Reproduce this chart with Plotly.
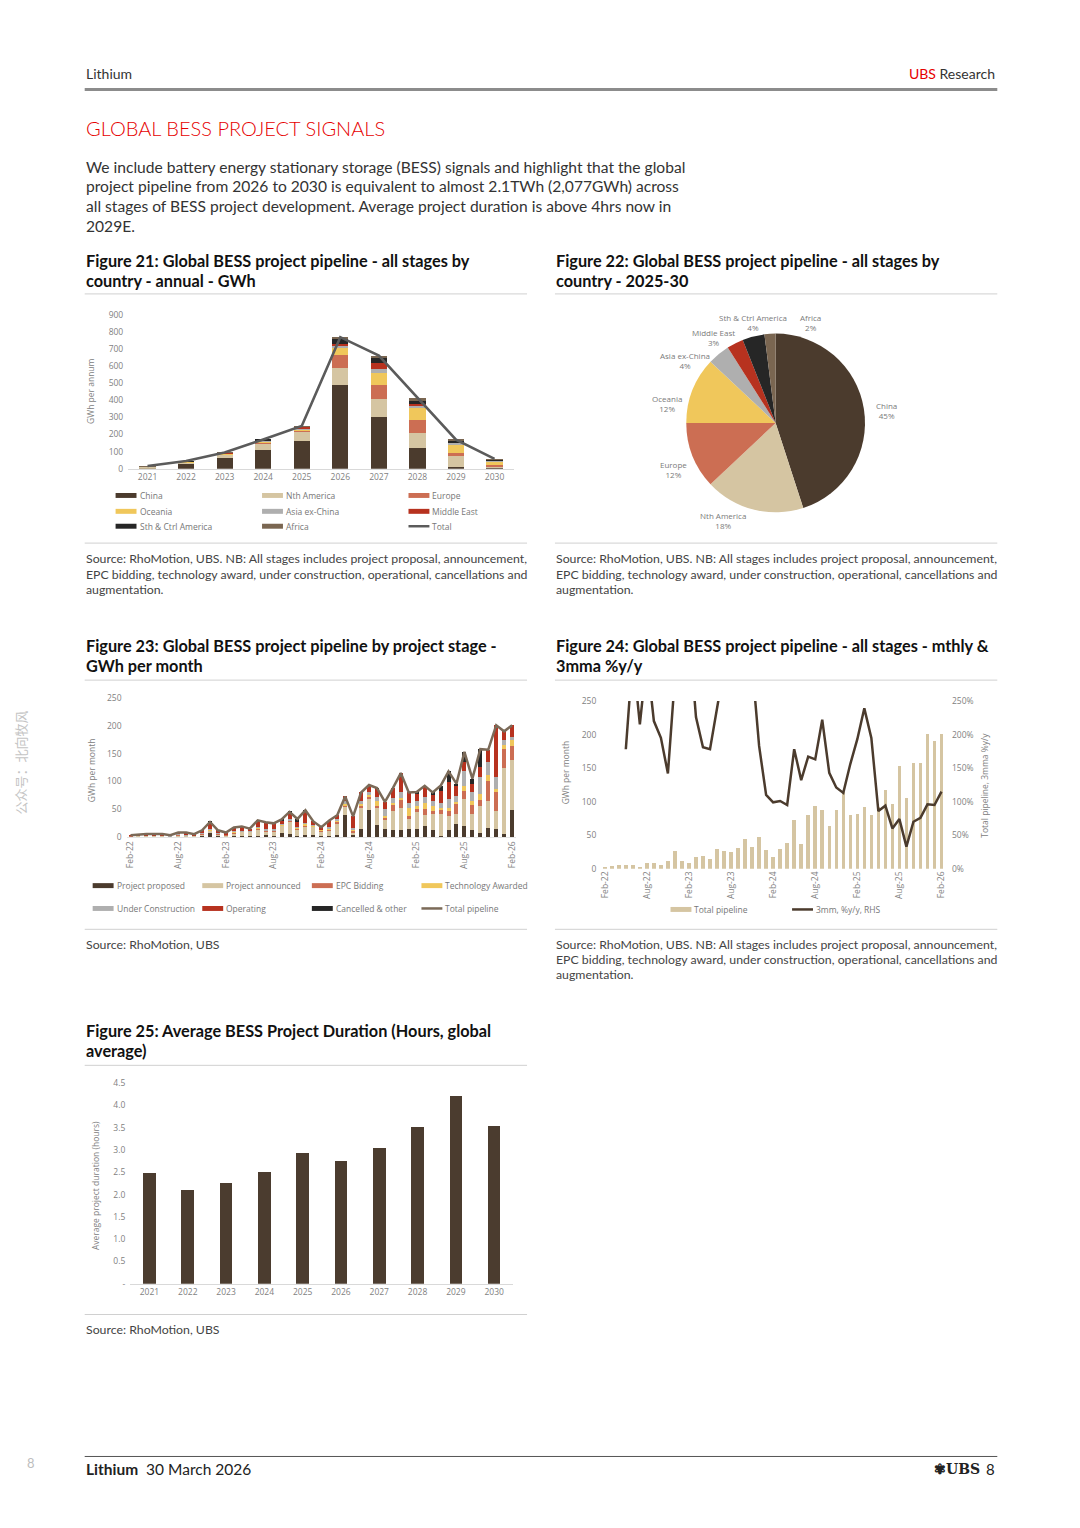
import numpy as np
import pandas as pd
import plotly.graph_objects as go

W, H = 1080, 1528
def X(px): return px / W
def Y(py): return 1 - py / H

# ---------------- DATA ----------------
# Figure 21 (GWh per annum, stacked by region)
years = ["2021", "2022", "2023", "2024", "2025", "2026", "2027", "2028", "2029", "2030"]
china = [4, 25, 62, 110, 162, 490, 302, 120, 8, 2]
nth_america = [8, 12, 20, 35, 50, 100, 107, 87, 66, 12]
europe = [1, 3, 5, 12, 12, 73, 80, 78, 18, 8]
oceania = [1, 2, 3, 5, 8, 40, 72, 68, 48, 22]
asia_ex_china = [0.3, 1, 2, 4, 5, 12, 22, 18, 12, 5]
middle_east = [0.3, 1, 1, 2, 8, 12, 33, 8, 5, 2]
sth_ctrl_america = [0.3, 1, 1, 2, 3, 30, 30, 18, 10, 3]
africa = [0.3, 0, 1, 0, 2, 12, 15, 15, 2, 3]

# Figure 22 (share of 2025-30 pipeline, %)
pie_labels = ["China", "Nth America", "Europe", "Oceania", "Asia ex-China",
              "Middle East", "Sth & Ctrl America", "Africa"]
pie_pct = [45, 18, 12, 12, 4, 3, 4, 2]

# Figure 23 / 24 (monthly, Feb-22 .. Feb-26)
months = list(pd.date_range("2022-02-01", "2026-02-01", freq="MS").strftime("%b-%y"))
month_ticks = ["Feb-22", "Aug-22", "Feb-23", "Aug-23", "Feb-24", "Aug-24", "Feb-25", "Aug-25", "Feb-26"]
proj_proposed = [0.5, 0.5, 0.5, 0.5, 0.3, 0.3, 0.5, 0.5, 0.5, 1, 8, 1, 0.5, 1, 2, 1, 2, 4, 2, 8,
                 5, 2, 4, 3, 1, 2, 3, 39, 3, 15, 48, 22, 15, 12, 12, 15, 15, 20, 12, 2,
                 12, 24, 20, 12, 7, 17, 14, 6, 48]
proj_announced = [1, 1.5, 2, 1.5, 2, 1, 3, 2, 1.5, 4, 3, 4, 3, 6, 7, 8, 12, 6, 8, 12,
                  22, 12, 14, 15, 9, 10, 22, 15, 5, 38, 22, 30, 15, 35, 40, 18, 30, 20, 30, 40,
                  25, 18, 48, 30, 48, 48, 32, 118, 90]
epc_bidding = [0.3, 0.5, 0.5, 0.5, 0.5, 0.2, 0.5, 0.5, 0.5, 1, 1, 1, 0.5, 1, 1, 1, 2, 1, 1.5, 1,
               2, 1.5, 2, 1, 2, 2, 3, 3, 3, 4, 3, 4, 5, 10, 15, 4, 5, 10, 5, 8,
               10, 18, 15, 15, 12, 35, 35, 34, 26]
tech_awarded = [0.2, 0.3, 0.3, 0.5, 0.2, 0.2, 1, 0.5, 0.3, 0.5, 1, 0.5, 0.5, 1, 0.5, 0.5, 1, 1, 1, 1,
                1, 1, 5, 2, 1, 2, 2, 3, 1, 3, 2, 8, 3, 4, 3, 15, 5, 12, 8, 3,
                5, 3, 9, 8, 10, 12, 6, 8, 10]
under_construction = [0.2, 0.2, 0.2, 0.5, 0.5, 0.3, 0.5, 0.5, 0.2, 0.5, 1, 0.5, 0.5, 1, 0.5, 0.5, 1, 1.5, 1, 1.5,
                      2, 2, 1, 1, 1, 1.5, 2, 4, 5, 5, 5, 8, 12, 10, 10, 10, 10, 10, 10, 8,
                      16, 10, 27, 15, 30, 22, 20, 8, 6]
operating = [0.8, 1.5, 2, 2, 2, 1, 2.5, 4, 2, 5, 12, 5, 3, 7, 8, 4, 12, 12, 11, 7,
             12, 8, 21, 6, 3.5, 12, 7, 9, 20, 15, 12, 15, 13, 17, 35, 18, 13, 20, 12, 21,
             30, 20, 16, 15, 18, 23, 94, 16, 21]
cancelled_other = [0, 0, 0, 0, 0, 0, 0, 0, 0, 0, 1, 0, 0, 0, 0, 0, 0, 1, 0, 1,
                   1, 6, 1, 0, 0, 0, 0, 0, 0, 0, 1.5, 1, 0, 0, 0, 0, 3, 0, 3, 10,
                   20, 3, 18, 10, 33, 0, 0, 0, 0]
total_pipeline = [3, 4.5, 5.5, 5.5, 5.5, 3, 8, 8, 5, 12, 27, 12, 8, 17, 19, 15, 30, 26.5, 24.5, 31.5,
                  45, 32.5, 48, 28, 17.5, 29.5, 39, 73, 37, 80, 93.5, 88, 63, 88, 115, 80, 81, 92, 80, 92,
                  118, 96, 153, 105, 158, 157, 201, 190, 201]
# 3mma %y/y (values above 250% run off the top of the chart)
yoy_3mma = [None, None, None, 178, 320, 215, 315, 220, 195, 142, 286, 330, 357, 226, 181, 178, 238, 300, 320, 310,
            330, 305, 183, 110, 99, 101, 95, 178, 132, 167, 163, 222, 143, 121, 113, 156, 193, 239, 195, 86,
            94, 60, 74, 33, 70, 76, 96, 95, 115]

# Figure 25 (average duration, hours)
duration_hours = [2.49, 2.11, 2.27, 2.51, 2.94, 2.76, 3.05, 3.51, 4.22, 3.55]
dur_ticks = [0, 0.5, 1, 1.5, 2, 2.5, 3, 3.5, 4, 4.5]
dur_ticktext = ["-", "0.5", "1.0", "1.5", "2.0", "2.5", "3.0", "3.5", "4.0", "4.5"]

# ---------------- STYLE ----------------
C_BROWN = "#4b3b2d"
C_TAN = "#d5c5a2"
C_SALMON = "#cc6e53"
C_YELLOW = "#f0c75b"
C_GREY = "#afafaf"
C_RED = "#b7321f"
C_BLACK = "#262626"
C_AFRICA = "#7a6651"
C_TOTAL21 = "#5b5b5b"
C_TOTAL23 = "#7b6a58"

TXT = "Lato"
CH = "Open Sans"
tickfont = dict(family=CH, size=8.5, color="#7f7f7f")

# pie label anchor points (px) in slice order
pie_label_xy = [(887, 407), (723, 518), (673, 467), (666, 400), (685, 357), (713, 334), (753, 319), (811, 319)]

fig = go.Figure()

# ---- Figure 21 ----
reg_series = [china, nth_america, europe, oceania, asia_ex_china, middle_east, sth_ctrl_america, africa]
reg_colors = [C_BROWN, C_TAN, C_SALMON, C_YELLOW, C_GREY, C_RED, C_BLACK, C_AFRICA]
for name, vals, col in zip(pie_labels, reg_series, reg_colors):
    fig.add_trace(go.Bar(x=years, y=vals, name=name, marker=dict(color=col, line=dict(width=0)),
                         width=0.42, xaxis="x", yaxis="y", showlegend=False))
totals21 = np.sum(np.array(reg_series, dtype=float), axis=0)
fig.add_trace(go.Scatter(x=years, y=totals21, mode="lines", line=dict(color=C_TOTAL21, width=2.6),
                         xaxis="x", yaxis="y", showlegend=False, name="Total"))

# ---- Figure 22 ----
fig.add_trace(go.Pie(labels=pie_labels, values=pie_pct, sort=False, direction="clockwise", rotation=0,
                     marker=dict(colors=reg_colors, line=dict(width=0)),
                     textinfo="none",
                     domain=dict(x=[X(685.5), X(865.5)], y=[Y(510), Y(330)]),
                     showlegend=False, hoverinfo="label+percent"))

# ---- Figure 23 ----
stage_series = [proj_proposed, proj_announced, epc_bidding, tech_awarded, under_construction, operating, cancelled_other]
stage_names = ["Project proposed", "Project announced", "EPC Bidding", "Technology Awarded",
               "Under Construction", "Operating", "Cancelled & other"]
stage_colors = [C_BROWN, C_TAN, C_SALMON, C_YELLOW, C_GREY, C_RED, C_BLACK]
for name, vals, col in zip(stage_names, stage_series, stage_colors):
    fig.add_trace(go.Bar(x=months, y=vals, name=name, marker=dict(color=col, line=dict(width=0)),
                         width=0.5, xaxis="x2", yaxis="y2", showlegend=False))
fig.add_trace(go.Scatter(x=months, y=total_pipeline, mode="lines", line=dict(color=C_TOTAL23, width=2.5),
                         xaxis="x2", yaxis="y2", showlegend=False, name="Total pipeline"))

# ---- Figure 24 ----
fig.add_trace(go.Bar(x=months, y=total_pipeline, marker=dict(color=C_TAN, line=dict(width=0)), width=0.5,
                     xaxis="x3", yaxis="y3", showlegend=False, name="Total pipeline"))
fig.add_trace(go.Scatter(x=months, y=yoy_3mma, mode="lines", line=dict(color=C_BROWN, width=2.5),
                         connectgaps=False, xaxis="x3", yaxis="y4", showlegend=False, name="3mm, %y/y, RHS"))

# ---- Figure 25 ----
fig.add_trace(go.Bar(x=years, y=duration_hours, marker=dict(color="#4b3c2f", line=dict(width=0)), width=0.33,
                     xaxis="x4", yaxis="y5", showlegend=False, name="Average duration"))

ax_common = dict(showgrid=False, zeroline=False, ticks="", tickfont=tickfont, fixedrange=True)

fig.update_layout(
    width=W, height=H, margin=dict(l=0, r=0, t=0, b=0, pad=0), autosize=False,
    paper_bgcolor="white", plot_bgcolor="white", barmode="stack", showlegend=False,
    xaxis=dict(domain=[X(125.7), X(512.7)], anchor="y", type="category", range=[-0.5, 9.5],
               showline=True, linecolor="#d9d9d9", linewidth=1, **ax_common),
    yaxis=dict(domain=[Y(466), Y(311)], anchor="x", range=[0, 900], dtick=100, showline=False,
               ticklabelstandoff=4, **ax_common),
    xaxis2=dict(domain=[X(124), X(515)], anchor="y2", type="category", range=[-0.5, 48.5],
                tickmode="array", tickvals=month_ticks, ticktext=month_ticks, tickangle=-90,
                showline=True, linecolor="#e3e3e3", linewidth=1, **ax_common),
    yaxis2=dict(domain=[Y(837), Y(697)], anchor="x2", range=[0, 250], dtick=50, showline=False,
                ticklabelstandoff=4, **ax_common),
    xaxis3=dict(domain=[X(600.5), X(945.5)], anchor="y3", type="category", range=[-0.5, 48.5],
                tickmode="array", tickvals=month_ticks, ticktext=month_ticks, tickangle=-90,
                showline=False, **ax_common),
    yaxis3=dict(domain=[Y(869), Y(700)], anchor="x3", range=[0, 250], dtick=50, showline=False,
                ticklabelstandoff=4, **ax_common),
    yaxis4=dict(domain=[Y(869), Y(700)], anchor="x3", overlaying="y3", side="right", range=[0, 250],
                dtick=50, ticksuffix="%", showline=False, ticklabelstandoff=6, **ax_common),
    xaxis4=dict(domain=[X(127.8), X(512.2)], anchor="y5", type="category", range=[-0.5, 9.5],
                showline=True, linecolor="#d9d9d9", linewidth=1, **ax_common),
    yaxis5=dict(domain=[Y(1287), Y(1085)], anchor="x4", range=[0, 4.5], tickmode="array",
                tickvals=dur_ticks, ticktext=dur_ticktext, showline=False, ticklabelstandoff=4, **ax_common),
)

ann = []
shapes = []

def text(x, y, s, size=14, color="#333333", family=TXT, xanchor="left", angle=0, weight="normal"):
    ann.append(dict(x=X(x), y=Y(y), xref="paper", yref="paper", text=s, showarrow=False,
                    xanchor=xanchor, yanchor="middle", textangle=angle,
                    font=dict(family=family, size=size, color=color, weight=weight)))

def hline(y, x0, x1, color="#d0d0d0", width=1):
    shapes.append(dict(type="line", xref="paper", yref="paper", x0=X(x0), x1=X(x1), y0=Y(y), y1=Y(y),
                       line=dict(color=color, width=width)))

def swatch(x, y, color, kind="bar"):
    if kind == "bar":
        shapes.append(dict(type="rect", xref="paper", yref="paper", x0=X(x), x1=X(x + 21),
                           y0=Y(y + 2.5), y1=Y(y - 2.5), fillcolor=color, line=dict(width=0)))
    else:
        shapes.append(dict(type="line", xref="paper", yref="paper", x0=X(x), x1=X(x + 21),
                           y0=Y(y), y1=Y(y), line=dict(color=color, width=2.5)))

# Header
text(81, 68, "Lithium", 14, "#333333")
text(998, 68, "<span style='color:#e60000'>UBS</span> Research", 14, "#333333", xanchor="right")
hline(84, 82, 998, "#8c8c8c", 3)
text(81, 123, "GLOBAL BESS PROJECT SIGNALS", 20, "#e60000", weight=300)
para = ["We include battery energy stationary storage (BESS) signals and highlight that the global",
        "project pipeline from 2026 to 2030 is equivalent to almost 2.1TWh (2,077GWh) across",
        "all stages of BESS project development. Average project duration is above 4hrs now in",
        "2029E."]
for i, line in enumerate(para):
    text(81, 162 + i * 19.7, line, 15.6, "#333333")

# Figure titles
def ftitle(x, y, lines):
    for i, l in enumerate(lines):
        text(x, y + i * 20, "<b>" + l + "</b>", 16.3, "#111111")

ftitle(81, 256, ["Figure 21: Global BESS project pipeline - all stages by", "country - annual - GWh"])
ftitle(553, 256, ["Figure 22: Global BESS project pipeline - all stages by", "country - 2025-30"])
hline(290, 82, 526); hline(290, 554, 998)
ftitle(81, 644, ["Figure 23: Global BESS project pipeline by project stage -", "GWh per month"])
ftitle(553, 644, ["Figure 24: Global BESS project pipeline - all stages - mthly &", "3mma %y/y"])
hline(679, 82, 526); hline(679, 554, 998)
ftitle(81, 1032, ["Figure 25: Average BESS Project Duration (Hours, global", "average)"])
hline(1067, 82, 526)

# bottom separators
hline(541, 82, 526); hline(541, 554, 998)
hline(930, 82, 526); hline(930, 554, 998)
hline(1318, 82, 526)

src_long = ["Source: RhoMotion, UBS. NB: All stages includes project proposal, announcement,",
            "EPC bidding, technology award, under construction, operational, cancellations and",
            "augmentation."]
for i, l in enumerate(src_long):
    text(81, 557 + i * 15.5, l, 12.3, "#444444")
    text(553, 557 + i * 15.5, l, 12.3, "#444444")
    text(553, 945 + i * 15.5, l, 12.3, "#444444")
text(81, 945, "Source: RhoMotion, UBS", 12.3, "#444444")
text(81, 1333, "Source: RhoMotion, UBS", 12.3, "#444444")

# Pie labels
for (lx, ly), lab, pct in zip(pie_label_xy, pie_labels, pie_pct):
    text(lx, ly, f"{lab}<br>{pct}%", 8, "#7a7a7a", CH, "center")

# Axis titles
text(88, 388, "GWh per annum", 8.5, "#808080", CH, "center", -90)
text(89, 770, "GWh per month", 8.5, "#808080", CH, "center", -90)
text(565, 772, "GWh per month", 8.5, "#808080", CH, "center", -90)
text(985, 785, "Total pipeline, 3mma %y/y", 8.5, "#808080", CH, "center", -90)
text(93, 1188, "Average project duration (hours)", 8.5, "#808080", CH, "center", -90)

# Legend fig 21
leg21 = [("China", C_BROWN), ("Nth America", C_TAN), ("Europe", C_SALMON),
         ("Oceania", C_YELLOW), ("Asia ex-China", C_GREY), ("Middle East", C_RED),
         ("Sth & Ctrl America", C_BLACK), ("Africa", C_AFRICA), ("Total", C_TOTAL21)]
for i, (n, c) in enumerate(leg21):
    cx = [113, 260, 407][i % 3]
    cy = [493, 509, 524][i // 3]
    swatch(cx, cy, c, "line" if n == "Total" else "bar")
    text(cx + 22, cy, n, 8.5, "#777777", CH)

# Legend fig 23
leg23 = list(zip(stage_names, stage_colors)) + [("Total pipeline", C_TOTAL23)]
for i, (n, c) in enumerate(leg23):
    cx = [90, 200, 310, 420][i % 4]
    cy = [886, 909][i // 4]
    swatch(cx, cy, c, "line" if n == "Total pipeline" else "bar")
    text(cx + 22, cy, n, 8.5, "#777777", CH)

# Legend fig 24
swatch(670, 910, C_TAN, "bar"); text(692, 910, "Total pipeline", 8.5, "#777777", CH)
swatch(792, 910, C_BROWN, "line"); text(814, 910, "3mm, %y/y, RHS", 8.5, "#777777", CH)

# Footer
hline(1461, 82, 998, "#555555", 1)
text(81, 1474, "<b>Lithium</b>  30 March 2026", 15.5, "#222222")
text(998, 1474, "8", 15, "#222222", xanchor="right")
text(983, 1474, "<b>✾UBS</b>", 14, "#222222", "DejaVu Serif", xanchor="right")
text(22, 1468, "8", 13, "#bdbdbd")
text(18, 762, "公众号：北向牧风", 13, "#c4c4c4", "Noto Sans CJK SC", "center", -90)

fig.update_layout(annotations=ann, shapes=shapes)

post = """
var gd = document.getElementById('{plot_id}');
document.documentElement.style.cssText = 'margin:0;padding:0;overflow:hidden;width:1080px;height:1528px;';
document.body.style.cssText = 'margin:0;padding:0;overflow:hidden;width:1080px;height:1528px;';
var p = gd.parentElement;
p.style.cssText = 'position:absolute;left:0;top:0;width:1080px;height:1528px;margin:0;padding:0;';
gd.style.position = 'absolute'; gd.style.left = '0px'; gd.style.top = '0px';
"""

fig.write_html("out.html", config={"displayModeBar": False, "responsive": False},
               default_width="1080px", default_height="1528px", post_script=post)
